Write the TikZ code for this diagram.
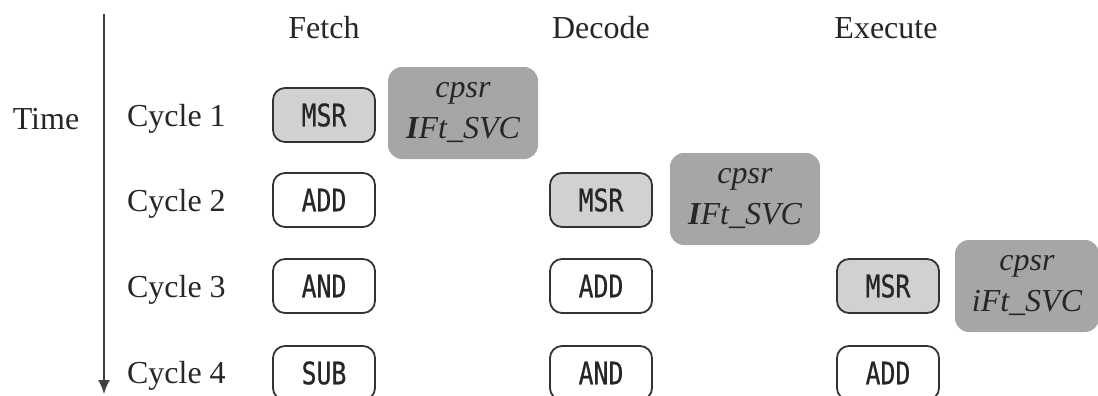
\documentclass[tikz,border=0pt]{standalone}
\usepackage{fontspec}
\setmainfont{Liberation Serif}
\newfontfamily\opfont[FakeStretch=0.8, FakeBold=0.6]{DejaVu Sans Mono}
\usetikzlibrary{arrows.meta,positioning}
\tikzset
{
    instr/.style = {rectangle, rounded corners=6pt, draw=black!80, line width=0.9pt, minimum width=51pt, minimum height=27pt, inner sep=0pt, text=black!85, font=\opfont\fontsize{15.5}{18}\selectfont},
    msrinstr/.style = {instr, fill=black!18},
    cpsrbox/.style = {rectangle, rounded corners=7pt, fill=black!35, minimum width=75pt, minimum height=46pt, inner sep=0pt, align=center, text=black!85, font=\itshape\fontsize{16}{20.5}\selectfont},
    stagelabel/.style = {font=\fontsize{16}{19}\selectfont, text=black!85}
}

\begin{document}
\begin{tikzpicture}[x=0.5pt, y=-0.5pt]
\clip (0,0) rectangle (1098,396);
% time axis
\coordinate (tstart) at (104,14);
\coordinate (tend) at (104,394);
\draw[line width=1pt, black!75, -{Latex[length=7pt,width=6pt]}] (tstart) -- (tend);
\node[stagelabel] (time) at (46,119) {Time};
% pipeline stages
\node[stagelabel] (fetch) at (324,28) {Fetch};
\node[stagelabel] (decode) at (601,28) {Decode};
\node[stagelabel] (execute) at (886,28) {Execute};
% cycles
\node[stagelabel, anchor=west] (cycA) at (120,119) {Cycle 1};
\node[stagelabel, anchor=west] (cycB) at (120,204) {Cycle 2};
\node[stagelabel, anchor=west] (cycC) at (120,290) {Cycle 3};
\node[stagelabel, anchor=west] (cycD) at (120,376) {Cycle 4};
% cycle 1
\node[msrinstr] (fetchA) at (324,115) {MSR};
\node[cpsrbox] (cpsrA) at (463,113) {cpsr\\\textbf{I}Ft\_SVC};
% cycle 2
\node[instr] (fetchB) at (324,200) {ADD};
\node[msrinstr] (decodeB) at (601,200) {MSR};
\node[cpsrbox] (cpsrB) at (745,199) {cpsr\\\textbf{I}Ft\_SVC};
% cycle 3
\node[instr] (fetchC) at (324,286) {AND};
\node[instr] (decodeC) at (601,286) {ADD};
\node[msrinstr] (executeC) at (888,286) {MSR};
\node[cpsrbox, minimum width=72pt] (cpsrC) at (1027,286) {cpsr\\iFt\_SVC};
% cycle 4
\node[instr] (fetchD) at (324,373) {SUB};
\node[instr] (decodeD) at (601,373) {AND};
\node[instr] (executeD) at (888,373) {ADD};
\end{tikzpicture}
\end{document}
